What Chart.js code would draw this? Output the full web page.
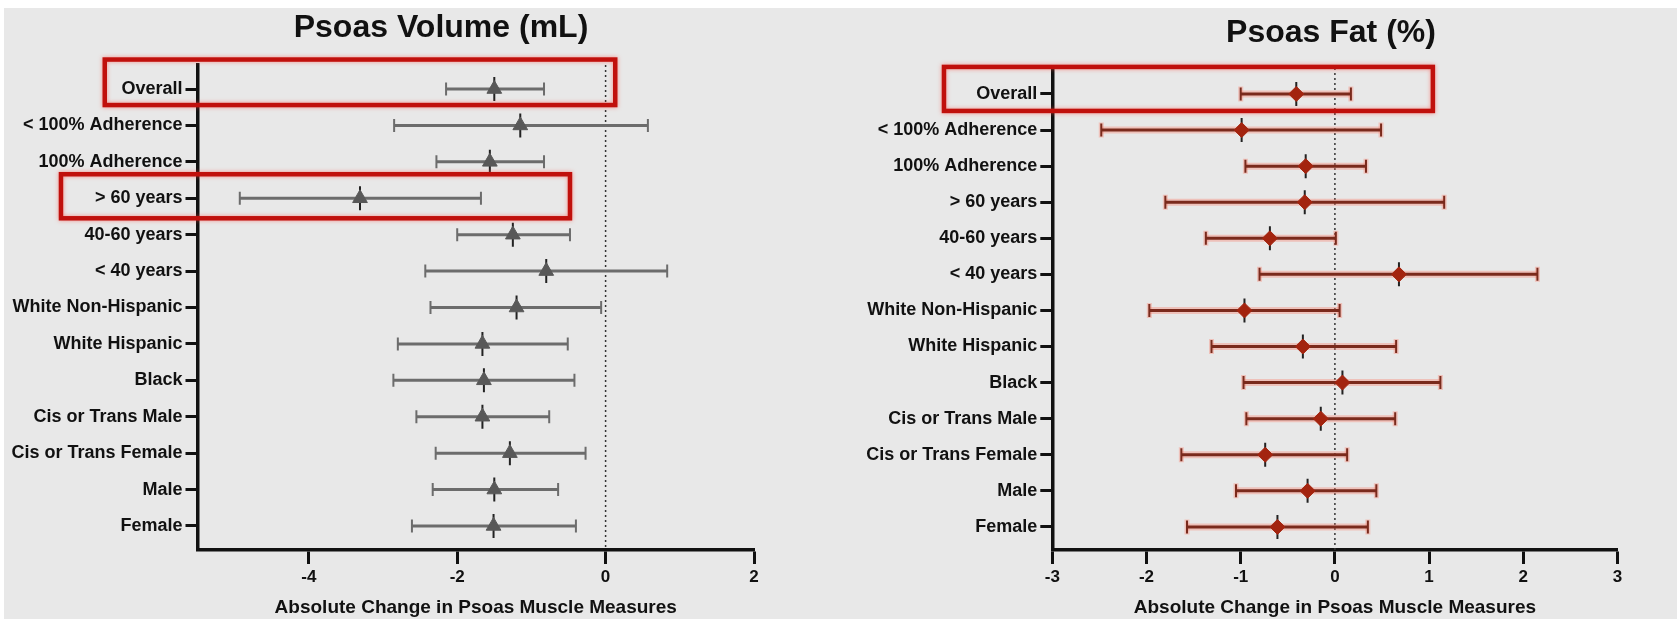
<!DOCTYPE html>
<html>
<head>
<meta charset="utf-8">
<script src="https://cdn.jsdelivr.net/npm/chart.js@4.4.1/dist/chart.umd.min.js"></script>
<style>
  html, body { margin: 0; padding: 0; background: #fff; }
  body { width: 1677px; height: 619px; position: relative; overflow: hidden; }
  #backdrop { position: absolute; left: 4px; top: 8px; right: 0; bottom: 0; background: #e8e8e8; }
  #volWrap { position: absolute; left: 0; top: 0; width: 820px; height: 619px; }
  #fatWrap { position: absolute; left: 820px; top: 0; width: 857px; height: 619px; }
  .panel-title {
    position: absolute; margin: 0; transform: translate(-50%, -50%);
    font: bold 32px 'Liberation Sans', Arial, Helvetica, sans-serif;
    line-height: 1; color: #111; white-space: nowrap;
  }
</style>
</head>
<body>
<div id="backdrop"></div>
<div id="volWrap"><canvas id="volChart" width="820" height="619"></canvas></div>
<div id="fatWrap"><canvas id="fatChart" width="857" height="619"></canvas></div>
<h2 class="panel-title" style="left: 441px; top: 26px;">Psoas Volume (mL)</h2>
<h2 class="panel-title" style="left: 1331px; top: 31px;">Psoas Fat (%)</h2>
<script>
const rowLabels = [
    'Overall', '< 100% Adherence', '100% Adherence', '> 60 years', '40-60 years',
    '< 40 years', 'White Non-Hispanic', 'White Hispanic', 'Black',
    'Cis or Trans Male', 'Cis or Trans Female', 'Male', 'Female'
];

// Psoas volume (mL): mean change and interval ends
const volMean = [-1.50, -1.15, -1.56, -3.31, -1.25, -0.80, -1.20, -1.66, -1.64, -1.66, -1.29, -1.50, -1.51];
const volLow  = [-2.15, -2.85, -2.28, -4.93, -2.00, -2.43, -2.36, -2.80, -2.86, -2.55, -2.29, -2.33, -2.61];
const volHigh = [-0.83,  0.57, -0.83, -1.68, -0.48,  0.83, -0.06, -0.51, -0.42, -0.76, -0.27, -0.64, -0.40];

// Psoas fat (%): mean change and interval ends
const fatMean = [-0.41, -0.99, -0.31, -0.32, -0.69,  0.68, -0.96, -0.34,  0.08, -0.15, -0.74, -0.29, -0.61];
const fatLow  = [-1.00, -2.48, -0.95, -1.80, -1.37, -0.80, -1.97, -1.31, -0.97, -0.94, -1.63, -1.05, -1.57];
const fatHigh = [ 0.17,  0.49,  0.33,  1.16,  0.01,  2.15,  0.05,  0.65,  1.12,  0.64,  0.13,  0.44,  0.35];

const FONT = "'Liberation Sans', Arial, Helvetica, sans-serif";
const INK = '#111111';

function meanPoints(mean) {
    return mean.map(function (v, i) { return { x: v, y: i }; });
}

function whiskerPoints(low, high) {
    const pts = [];
    low.forEach(function (lo, i) {
        pts.push({ x: lo, y: i }, { x: high[i], y: i }, { x: lo, y: null });
    });
    return pts;
}

// red outline boxes, placed in axis units
const highlightBoxes = {
    id: 'highlightBoxes',
    afterDraw(chart, args, opts) {
        const ctx = chart.ctx;
        const x = chart.scales.x;
        const y = chart.scales.y;
        ctx.save();
        ctx.strokeStyle = opts.color;
        ctx.lineWidth = opts.width;
        ctx.shadowColor = 'rgba(255, 70, 60, 0.55)';
        ctx.shadowBlur = 4;
        (opts.boxes || []).forEach(function (b) {
            const l = x.getPixelForValue(b.xMin);
            const r = x.getPixelForValue(b.xMax);
            const t = y.getPixelForValue(b.row + b.above);
            const btm = y.getPixelForValue(b.row + b.below);
            ctx.strokeRect(l, t, r - l, btm - t);
        });
        ctx.restore();
    }
};

function makeForest(canvasId, cfg) {
    const canvas = document.getElementById(canvasId);
    const datasets = [
        {
            data: meanPoints(cfg.mean),
            pointStyle: cfg.markerStyle,
            pointRadius: cfg.markerRadius,
            pointBackgroundColor: cfg.markerColor,
            pointBorderColor: cfg.markerColor,
            pointBorderWidth: 1,
            showLine: false,
        },
        {
            data: meanPoints(cfg.mean),
            pointStyle: 'line',
            pointRotation: 90,
            pointRadius: 12,
            pointBorderColor: '#222222',
            pointBorderWidth: 2,
            showLine: false,
        },
        {
            data: whiskerPoints(cfg.low, cfg.high),
            showLine: true,
            spanGaps: false,
            borderColor: cfg.lineColor,
            borderWidth: 3,
            pointStyle: 'line',
            pointRotation: 90,
            pointRadius: 6.5,
            pointBorderColor: cfg.lineColor,
            pointBorderWidth: 2,
        },
    ];
    if (cfg.glowColor) {
        datasets.push({
            data: whiskerPoints(cfg.low, cfg.high),
            showLine: true,
            spanGaps: false,
            borderColor: cfg.glowColor,
            borderWidth: 7,
            pointStyle: 'line',
            pointRotation: 90,
            pointRadius: 7.5,
            pointBorderColor: cfg.glowColor,
            pointBorderWidth: 5,
        });
    }
    datasets.push({
        data: [{ x: 0, y: cfg.yMin }, { x: 0, y: cfg.yMax }],
        showLine: true,
        borderColor: '#333333',
        borderWidth: 1.5,
        borderDash: [2, 3],
        pointRadius: 0,
    });

    return new Chart(canvas.getContext('2d'), {
        type: 'scatter',
        data: { datasets: datasets },
        plugins: [highlightBoxes],
        options: {
            responsive: false,
            animation: false,
            events: [],
            layout: { padding: { left: 0, right: cfg.padRight, top: cfg.padTop, bottom: 0 } },
            plugins: {
                legend: { display: false },
                tooltip: { enabled: false },
                highlightBoxes: { color: '#c0100c', width: 4.5, boxes: cfg.boxes },
            },
            scales: {
                x: {
                    type: 'linear',
                    position: 'bottom',
                    min: cfg.xMin,
                    max: cfg.xMax,
                    afterFit: function (scale) { scale.height = 69; },
                    ticks: {
                        stepSize: cfg.xStep,
                        includeBounds: false,
                        color: INK,
                        padding: 3,
                        font: { family: FONT, size: 17, weight: 'bold' },
                    },
                    grid: {
                        drawOnChartArea: false,
                        drawTicks: true,
                        tickLength: 14,
                        tickColor: INK,
                        tickWidth: 3,
                    },
                    border: { display: true, color: INK, width: 3.5 },
                    title: {
                        display: true,
                        text: 'Absolute Change in Psoas Muscle Measures',
                        color: INK,
                        font: { family: FONT, size: 19, weight: 'bold' },
                        padding: { top: 2, bottom: 0 },
                    },
                },
                y: {
                    type: 'linear',
                    position: 'left',
                    reverse: true,
                    min: cfg.yMin,
                    max: cfg.yMax,
                    afterFit: function (scale) { scale.width = cfg.yAxisWidth; },
                    ticks: {
                        stepSize: 1,
                        includeBounds: false,
                        autoSkip: false,
                        color: INK,
                        padding: 3,
                        font: { family: FONT, size: 18, weight: 'bold' },
                        callback: function (v) { return rowLabels[v] !== undefined ? rowLabels[v] : ''; },
                    },
                    grid: {
                        drawOnChartArea: false,
                        drawTicks: true,
                        tickLength: 12,
                        tickColor: INK,
                        tickWidth: 3,
                    },
                    border: { display: true, color: INK, width: 3.5 },
                },
            },
        },
    });
}

makeForest('volChart', {
    mean: volMean, low: volLow, high: volHigh,
    markerStyle: 'triangle', markerRadius: 8.5, markerColor: '#585858',
    lineColor: '#6c6c6c',
    xMin: -5.5, xMax: 2, xStep: 2,
    yMin: -0.66, yMax: 12.66,
    padRight: 66, padTop: 65, yAxisWidth: 197.5,
    boxes: [
        { row: 0, above: -0.81, below: 0.44, xMin: -6.75, xMax: 0.13 },
        { row: 3, above: -0.66, below: 0.55, xMin: -7.34, xMax: -0.48 },
    ],
});

makeForest('fatChart', {
    mean: fatMean, low: fatLow, high: fatHigh,
    markerStyle: 'rectRot', markerRadius: 7.5, markerColor: '#a3240f',
    lineColor: '#7a2a1c', glowColor: 'rgba(250, 120, 100, 0.35)',
    xMin: -3, xMax: 3, xStep: 1,
    yMin: -0.72, yMax: 12.64,
    padRight: 59.5, padTop: 68, yAxisWidth: 232.3,
    boxes: [
        { row: 0, above: -0.75, below: 0.47, xMin: -4.15, xMax: 1.04 },
    ],
});
</script>
</body>
</html>
